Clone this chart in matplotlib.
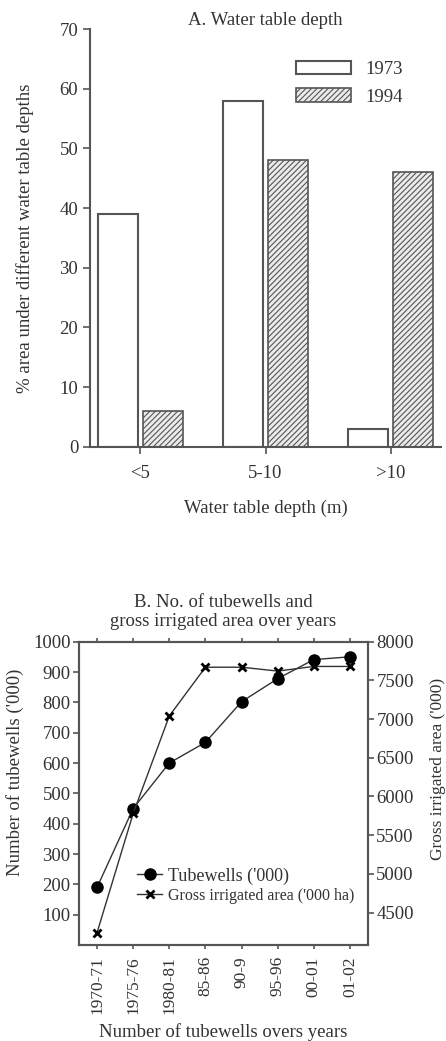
import matplotlib
matplotlib.use("Agg")
import matplotlib.pyplot as plt

plt.rcParams['font.family'] = ['Liberation Serif', 'DejaVu Serif']
plt.rcParams['hatch.color'] = '#8a8a8a'
plt.rcParams['hatch.linewidth'] = 0.8

TXT = '#333333'
AX = '#555555'

# --- panel A data ---
depth_cats = ['<5', '5-10', '>10']
area_1973 = [39, 58, 3]
area_1994 = [6, 48, 46]

# --- panel B data ---
years = ['1970-71', '1975-76', '1980-81', '85-86', '90-9', '95-96', '00-01', '01-02']
tubewells = [190, 450, 600, 668, 802, 878, 941, 950]
gross_area = [4240, 5780, 7040, 7670, 7670, 7620, 7680, 7680]

fig = plt.figure(figsize=(4.46, 10.41), dpi=100)

# ---------------- panel A ----------------
ax1 = fig.add_axes([0.2018, 0.5709, 0.787, 0.4012])
x = range(len(depth_cats))
w = 0.32
ax1.bar([i - 0.18 for i in x], area_1973, w, facecolor='white',
        edgecolor=AX, lw=1.5, label='1973')
ax1.bar([i + 0.18 for i in x], area_1994, w, facecolor='#ebebeb',
        edgecolor=AX, lw=1.2, hatch='//////', label='1994')
ax1.set_xlim(-0.4, 2.4)
ax1.set_ylim(0, 70)
ax1.set_yticks(range(0, 71, 10))
ax1.set_xticks(list(x))
ax1.set_xticklabels(depth_cats)
for s in ['top', 'right']:
    ax1.spines[s].set_visible(False)
for s in ['left', 'bottom']:
    ax1.spines[s].set_color(AX)
    ax1.spines[s].set_linewidth(1.5)
ax1.tick_params(colors=AX, labelcolor=TXT, labelsize=13.5, width=1.2, length=5)
ax1.tick_params(axis='x', pad=8)
ax1.set_title('A. Water table depth', fontsize=13.5, color=TXT, pad=1)
ax1.set_xlabel('Water table depth (m)', fontsize=13.5, color=TXT, labelpad=13)
ax1.set_ylabel('% area under different water table depths', fontsize=13.5,
               color=TXT)
ax1.yaxis.set_label_coords(-0.16, 0.5)
leg1 = ax1.legend(loc='upper right', bbox_to_anchor=(0.94, 0.965), frameon=False,
                  fontsize=13.5, handlelength=2.9, handleheight=0.75,
                  handletextpad=0.8, labelspacing=0.55)
for t in leg1.get_texts():
    t.set_color(TXT)

# ---------------- panel B ----------------
ax2 = fig.add_axes([0.1771, 0.0922, 0.648, 0.2914])
xb = range(len(years))
l1, = ax2.plot(list(xb), tubewells, '-o', color='#333333', lw=1.0,
               ms=8, mfc='black', mec='black', label="Tubewells ('000)")
ax2.set_xlim(-0.5, 7.5)
ax2.set_ylim(0, 1000)
ax2.set_yticks(range(100, 1001, 100))
ax2.set_xticks(list(xb))
ax2.set_xticklabels(years, rotation=90)
ax2.tick_params(colors=AX, labelcolor=TXT, labelsize=13.5, width=1.2, length=4,
                pad=2)
ax2.tick_params(axis='x', top=True, labelsize=12.5, length=3, pad=5)
for s in ax2.spines.values():
    s.set_color(AX)
    s.set_linewidth(1.5)

ax3 = ax2.twinx()
l2, = ax3.plot(list(xb), gross_area, '-x', color='#333333', lw=1.0,
               ms=6, mew=2, mec='black', label="Gross irrigated area ('000 ha)")
ax3.set_ylim(4080, 8000)
ax3.set_yticks(range(4500, 8001, 500))
ax3.tick_params(colors=AX, labelcolor=TXT, labelsize=13.5, width=1.2, length=4,
                pad=2)
for s in ax3.spines.values():
    s.set_color(AX)
    s.set_linewidth(1.5)

ax2.set_title('B. No. of tubewells and\ngross irrigated area over years',
              fontsize=13.5, color=TXT, pad=11, linespacing=1.2)
ax2.set_xlabel('Number of tubewells overs years', fontsize=13.5, color=TXT,
               labelpad=7)
ax2.set_ylabel("Number of tubewells ('000)", fontsize=13.5, color=TXT)
ax2.yaxis.set_label_coords(-0.19, 0.57)
ax3.set_ylabel("Gross irrigated area ('000)", fontsize=12.5, color=TXT)
ax3.yaxis.set_label_coords(1.215, 0.58)

leg2 = ax2.legend(handles=[l1, l2], loc='lower left',
                  bbox_to_anchor=(0.17, 0.105), frameon=False,
                  fontsize=13, handlelength=1.4, handletextpad=0.3,
                  labelspacing=0.15, borderpad=0)
leg2.get_texts()[0].set_fontsize(13)
leg2.get_texts()[1].set_fontsize(11.5)
for t in leg2.get_texts():
    t.set_color(TXT)

fig.savefig('out.png', dpi=100)
